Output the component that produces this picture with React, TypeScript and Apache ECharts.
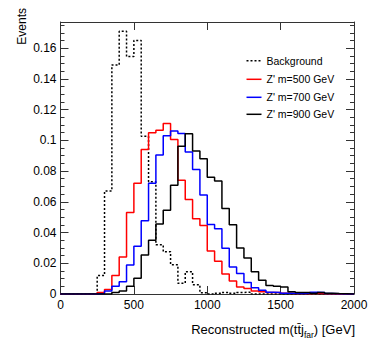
import React, { useEffect, useRef } from "react";
import * as echarts from "echarts";

// Bin lower edges (GeV), 50 GeV bins
const binLowEdges = [
  0, 50, 100, 150, 200, 250, 300, 350, 400, 450,
  500, 550, 600, 650, 700, 750, 800, 850, 900, 950,
  1000, 1050, 1100, 1150, 1200, 1250, 1300, 1350, 1400, 1450,
  1500, 1550, 1600, 1650, 1700, 1750, 1800, 1850, 1900, 1950,
];
const xUpperEdge = 2000;

const seriesNames = ["Background", "Z' m=500 GeV", "Z' m=700 GeV", "Z' m=900 GeV"];
const seriesColors = ["#000000", "#ff0000", "#0000ff", "#000000"];
const seriesDotted = [true, false, false, false];

const background = [
  0, 0, 0, 0, 0, 0.012, 0.067, 0.149, 0.171, 0.1545,
  0.165, 0.1026, 0.073, 0.032, 0.0275, 0.019, 0.007, 0.0145, 0.006, 0.0008,
  0, 0.0005, 0.001, 0.0005, 0.001, 0.0012, 0, 0, 0, 0,
  0, 0, 0, 0, 0, 0, 0, 0, 0, 0,
];
const zp500 = [
  0, 0, 0, 0, 0, 0.001, 0.003, 0.012, 0.024, 0.053,
  0.072, 0.094, 0.105, 0.1065, 0.111, 0.1005, 0.074, 0.0615, 0.049, 0.0445,
  0.028, 0.0213, 0.013, 0.0085, 0.0045, 0.0035, 0.002, 0.0015, 0.001, 0.001,
  0.0005, 0.0003, 0.0003, 0.0002, 0.0005, 0.0002, 0.0001, 0, 0, 0,
];
const zp700 = [
  0, 0, 0, 0, 0, 0.0003, 0.002, 0.005, 0.008, 0.0188,
  0.031, 0.0476, 0.072, 0.0905, 0.103, 0.106, 0.1045, 0.0924, 0.081, 0.0645,
  0.0453, 0.0425, 0.0297, 0.0175, 0.0133, 0.0075, 0.004, 0.0025, 0.0012, 0.001,
  0.0005, 0.0005, 0.0003, 0.0005, 0.0012, 0.001, 0.0003, 0.0002, 0, 0,
];
const zp900 = [
  0, 0, 0, 0, 0, 0, 0, 0.001, 0.002, 0.005,
  0.0102, 0.0253, 0.035, 0.0455, 0.0545, 0.0708, 0.0961, 0.1043, 0.093, 0.088,
  0.076, 0.0736, 0.0556, 0.045, 0.03, 0.0234, 0.0145, 0.009, 0.0055, 0.005,
  0.0045, 0.0015, 0.001, 0.001, 0.0005, 0.001, 0.0005, 0.0003, 0.0002, 0,
];
const seriesValues = [background, zp500, zp700, zp900];

const xTicks = [0, 500, 1000, 1500, 2000];
const yTicks = [0, 0.02, 0.04, 0.06, 0.08, 0.1, 0.12, 0.14, 0.16];

const FONT = "'Liberation Sans', Arial, Helvetica, sans-serif";
const AXIS_COLOR = "#333";

function toStep(vals: number[]) {
  const pts: number[][] = binLowEdges.map((x, i) => [x, vals[i]]);
  pts.push([xUpperEdge, vals[vals.length - 1]]);
  return pts;
}

export default function App() {
  const ref = useRef<HTMLDivElement>(null);
  useEffect(() => {
    if (!ref.current) return;
    const chart = echarts.init(ref.current, null, { renderer: "svg" });
    const yMax = 0.177;
    const commonTick = { show: true, inside: true, length: 8, lineStyle: { color: AXIS_COLOR, width: 1 } };
    const yMinor = { show: true, splitNumber: 4, length: 4, lineStyle: { color: AXIS_COLOR, width: 1 } };
    const dash = [2, 2];

    const series = seriesNames.map((name, i) => ({
      name,
      type: "line",
      step: "end",
      data: toStep(seriesValues[i]),
      symbol: "none",
      showSymbol: false,
      clip: true,
      lineStyle: { color: seriesColors[i], width: 1.5, type: seriesDotted[i] ? dash : "solid" },
      itemStyle: { color: seriesColors[i] },
      z: 2,
    }));

    const legendRowY = [60.7, 79.3, 97.3, 114.3];
    const legendGraphics: any[] = [];
    seriesNames.forEach((name, i) => {
      legendGraphics.push({
        type: "line",
        shape: { x1: 246.5, y1: legendRowY[i], x2: 261.5, y2: legendRowY[i] },
        style: {
          stroke: seriesColors[i],
          lineWidth: 1.5,
          lineDash: seriesDotted[i] ? dash : null,
        },
      });
      legendGraphics.push({
        type: "text",
        x: 266.5,
        y: legendRowY[i],
        style: {
          text: name,
          align: "left",
          verticalAlign: "middle",
          fill: "#000",
          font: `10.5px ${FONT}`,
        },
      });
    });

    chart.setOption({
      animation: false,
      grid: { left: 60.5, right: 20, top: 22, bottom: 57, containLabel: false },
      xAxis: [
        {
          type: "value",
          min: xTicks[0],
          max: xTicks[xTicks.length - 1],
          interval: xTicks[1] - xTicks[0],
          position: "bottom",
          axisLine: { show: true, onZero: false, lineStyle: { color: AXIS_COLOR, width: 1 } },
          axisTick: commonTick,
          splitLine: { show: false },
          axisLabel: {
            fontFamily: FONT,
            fontSize: 12,
            color: "#000",
            margin: 5,
            formatter: (v: number) => String(v),
          },
        },
        {
          type: "value",
          min: xTicks[0],
          max: xTicks[xTicks.length - 1],
          interval: xTicks[1] - xTicks[0],
          position: "top",
          axisLine: { show: true, onZero: false, lineStyle: { color: AXIS_COLOR, width: 1 } },
          axisTick: commonTick,
          splitLine: { show: false },
          axisLabel: { show: false },
        },
      ],
      yAxis: [
        {
          type: "value",
          min: yTicks[0],
          max: yMax,
          interval: yTicks[1] - yTicks[0],
          position: "left",
          axisLine: { show: true, onZero: false, lineStyle: { color: AXIS_COLOR, width: 1 } },
          axisTick: commonTick,
          minorTick: yMinor,
          splitLine: { show: false },
          axisLabel: {
            fontFamily: FONT,
            fontSize: 12,
            color: "#000",
            margin: 4,
            showMaxLabel: false,
            formatter: (v: number) => {
              const t = yTicks.find((y) => Math.abs(y - v) < 1e-9);
              return t === undefined ? "" : String(+t.toFixed(2));
            },
          },
        },
        {
          type: "value",
          min: yTicks[0],
          max: yMax,
          interval: yTicks[1] - yTicks[0],
          position: "right",
          axisLine: { show: true, onZero: false, lineStyle: { color: AXIS_COLOR, width: 1 } },
          axisTick: commonTick,
          minorTick: yMinor,
          splitLine: { show: false },
          axisLabel: { show: false },
        },
      ],
      series,
      graphic: [
        ...legendGraphics,
        {
          type: "text",
          x: 355,
          y: 329,
          style: {
            text: "{a|Reconstructed m(tt\u0304j}{s|far}{a|) [GeV]}",
            align: "right",
            verticalAlign: "middle",
            fill: "#000",
            rich: {
              a: { fontFamily: FONT, fontSize: 13, lineHeight: 20, verticalAlign: "middle", fill: "#000" },
              s: { fontFamily: FONT, fontSize: 8.5, lineHeight: 9, verticalAlign: "bottom", fill: "#000" },
            },
          },
        },
        {
          type: "text",
          x: 22,
          y: 8,
          rotation: Math.PI / 2,
          style: {
            text: "Events",
            align: "right",
            verticalAlign: "middle",
            fill: "#000",
            font: `12px ${FONT}`,
          },
        },
      ],
    });
    return () => chart.dispose();
  }, []);
  return (
    <div
      ref={ref}
      style={{ position: "absolute", left: 0, top: 0, width: 374, height: 351, background: "#fff" }}
    />
  );
}
